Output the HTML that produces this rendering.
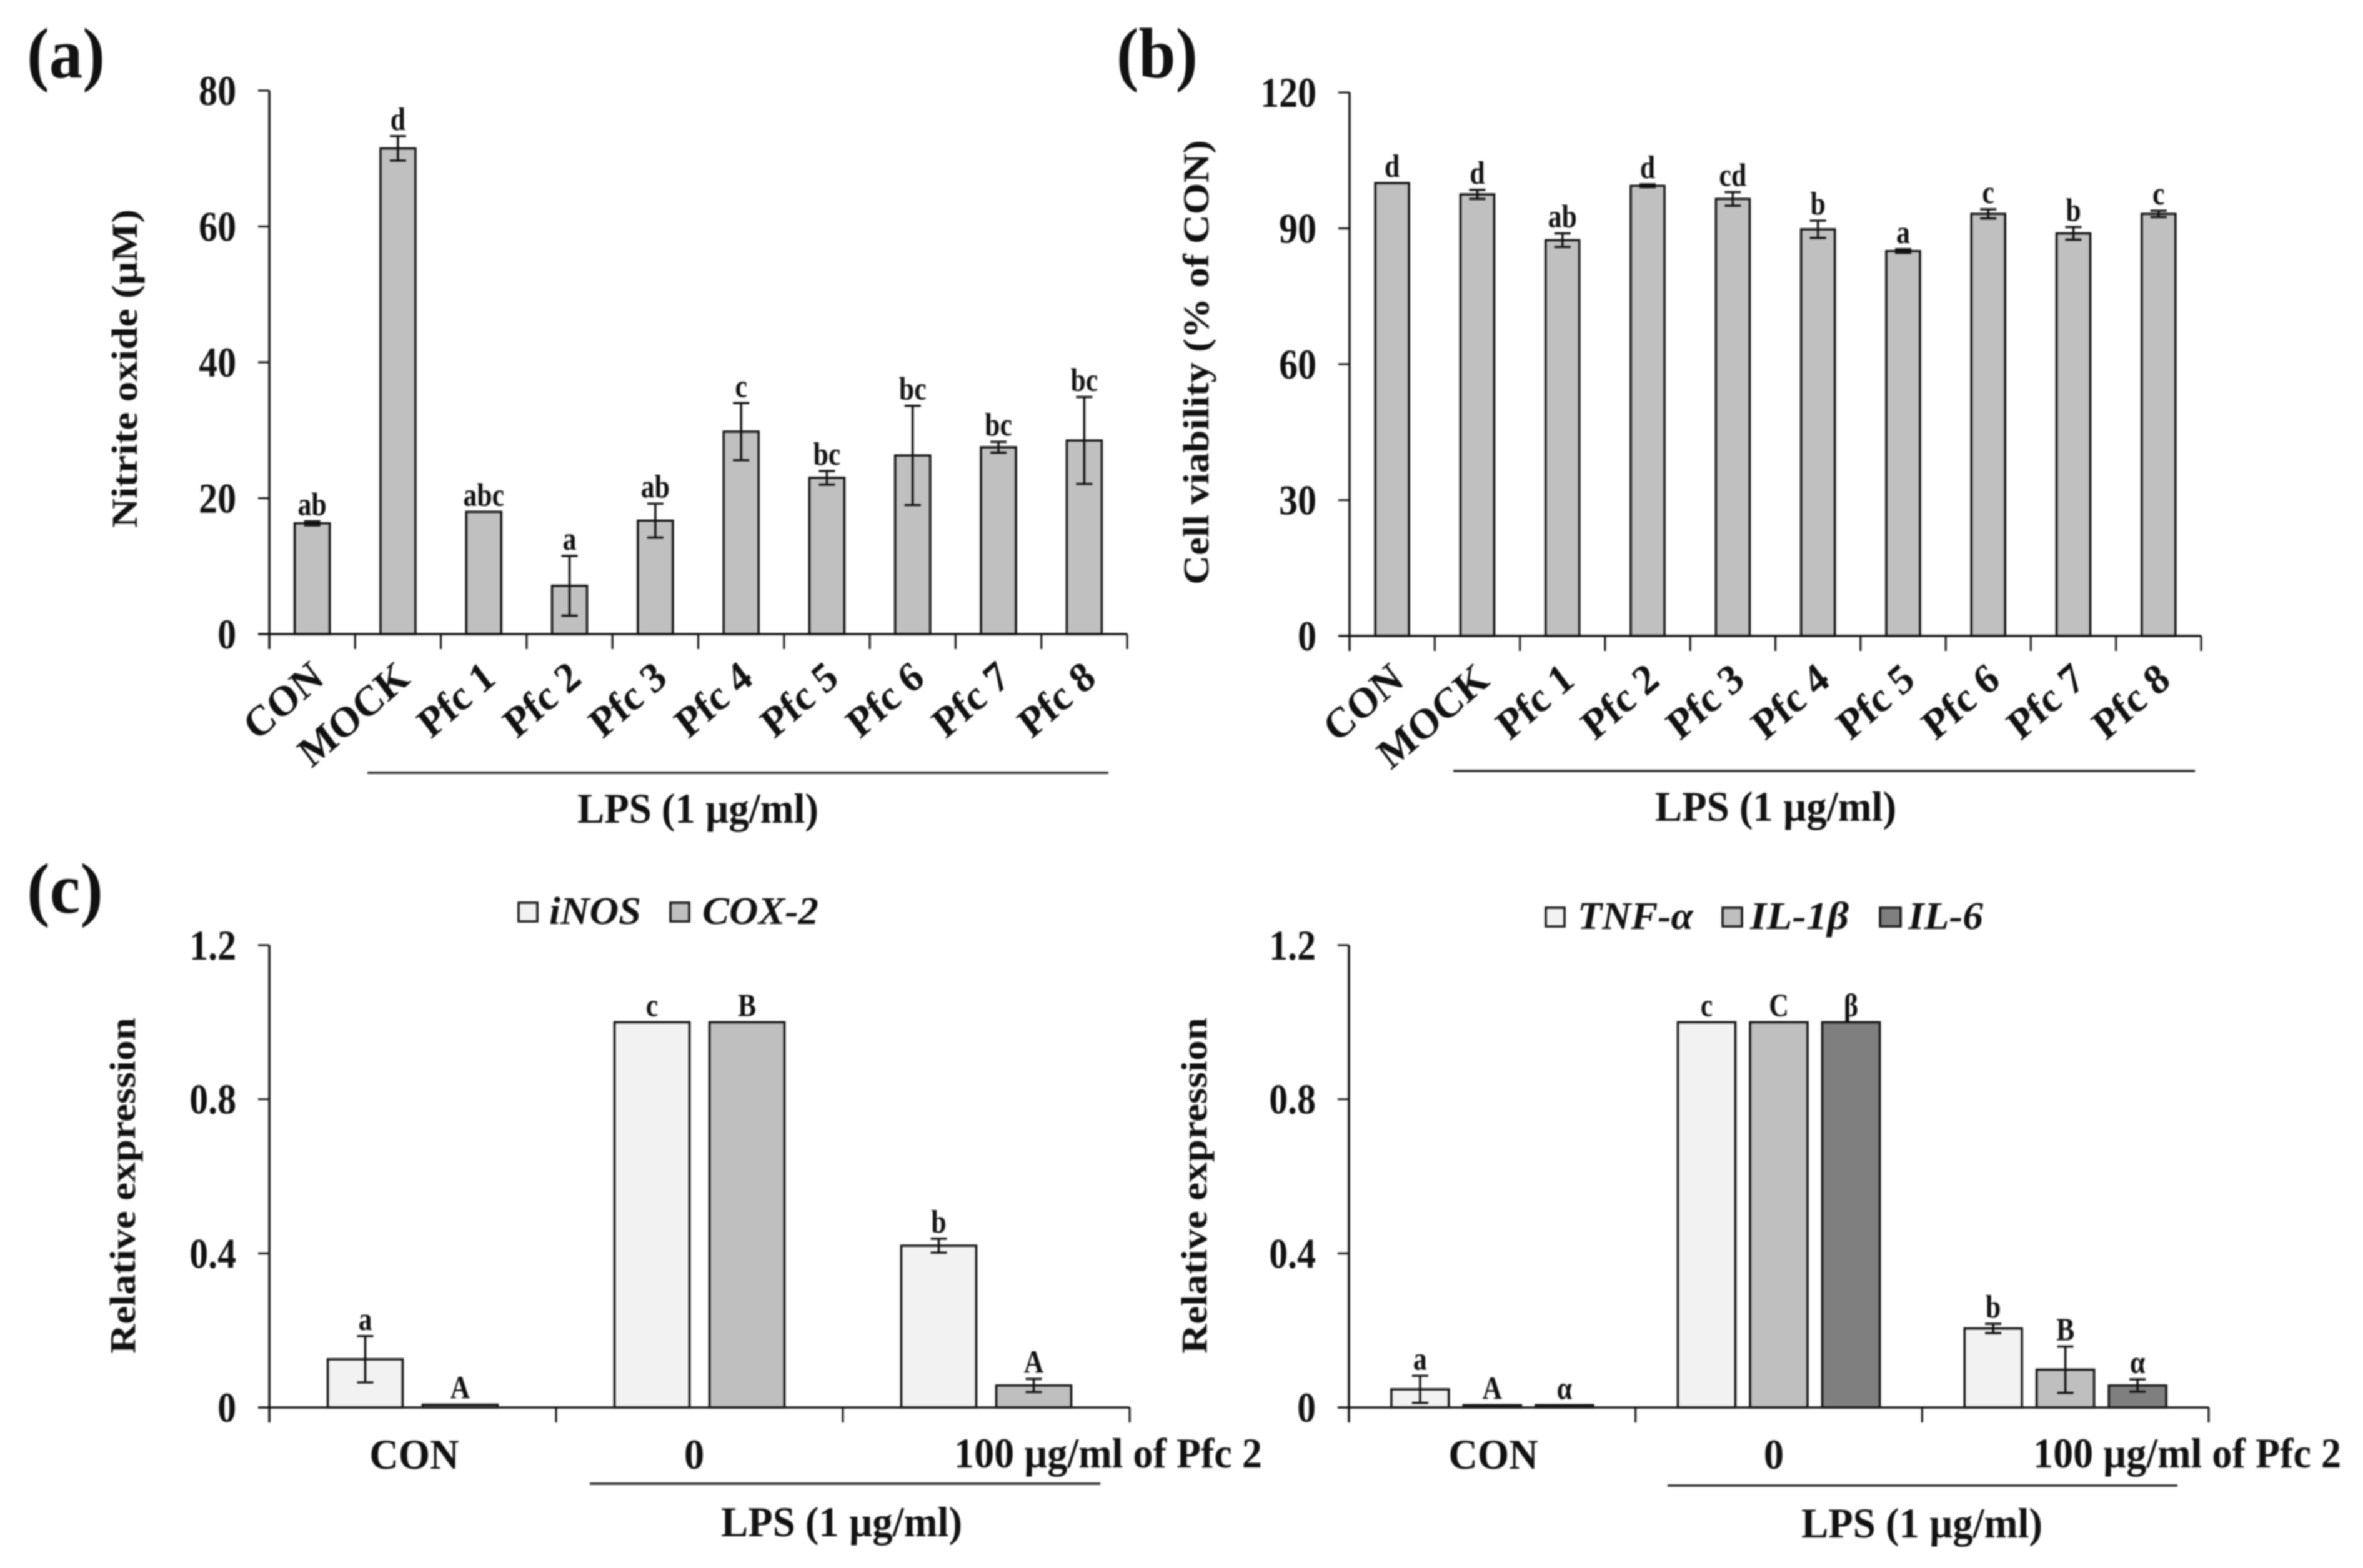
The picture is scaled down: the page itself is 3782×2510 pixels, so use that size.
<!DOCTYPE html>
<html lang="en">
<head>
<meta charset="utf-8">
<title>Nitrite oxide, cell viability and relative expression charts</title>
<style>
html,body{margin:0;padding:0;background:#fff;width:3782px;height:2510px;overflow:hidden}
svg{display:block;filter:blur(1.4px)}
text{font-family:"Liberation Serif","DejaVu Serif",serif;font-weight:bold;fill:#111}
</style>
</head>
<body>
<svg id="figure" xmlns="http://www.w3.org/2000/svg" width="3782" height="2510" viewBox="0 0 3782 2510">
  <rect width="3782" height="2510" fill="#fff"/>
  <text x="43" y="124" font-size="114" textLength="125" lengthAdjust="spacingAndGlyphs">(a)</text>
  <text x="1787" y="124" font-size="114" textLength="130" lengthAdjust="spacingAndGlyphs">(b)</text>
  <text x="43" y="1461" font-size="114" textLength="122" lengthAdjust="spacingAndGlyphs">(c)</text>

  <text transform="translate(219 590) rotate(-90)" text-anchor="middle" font-size="58" textLength="510" lengthAdjust="spacingAndGlyphs">Nitrite oxide (µM)</text>
  <text transform="translate(1934 580) rotate(-90)" text-anchor="middle" font-size="58" textLength="712" lengthAdjust="spacingAndGlyphs">Cell viability (% of CON)</text>
  <text transform="translate(216 1898) rotate(-90)" text-anchor="middle" font-size="58" textLength="538" lengthAdjust="spacingAndGlyphs">Relative expression</text>
  <text transform="translate(1931 1898) rotate(-90)" text-anchor="middle" font-size="58" textLength="538" lengthAdjust="spacingAndGlyphs">Relative expression</text>

  <line x1="588" x2="1774" y1="1237" y2="1237" stroke="#222" stroke-width="3.5"/>
  <text x="1117" y="1317" text-anchor="middle" font-size="68" textLength="386" lengthAdjust="spacingAndGlyphs">LPS (1 µg/ml)</text>
  <line x1="2326" x2="3513" y1="1234" y2="1234" stroke="#222" stroke-width="3.5"/>
  <text x="2842" y="1314" text-anchor="middle" font-size="68" textLength="386" lengthAdjust="spacingAndGlyphs">LPS (1 µg/ml)</text>
  <line x1="944" x2="1761" y1="2375" y2="2375" stroke="#222" stroke-width="3.5"/>
  <text x="1347" y="2459" text-anchor="middle" font-size="68" textLength="386" lengthAdjust="spacingAndGlyphs">LPS (1 µg/ml)</text>
  <line x1="2669" x2="3485" y1="2378" y2="2378" stroke="#222" stroke-width="3.5"/>
  <text x="3076" y="2461" text-anchor="middle" font-size="68" textLength="386" lengthAdjust="spacingAndGlyphs">LPS (1 µg/ml)</text>

  <g>
    <rect x="830" y="1445" width="30" height="30" fill="#f2f2f2" stroke="#111" stroke-width="3.5"/>
    <text x="879" y="1479" font-size="62" font-style="italic" textLength="147" lengthAdjust="spacingAndGlyphs">iNOS</text>
    <rect x="1073" y="1445" width="30" height="30" fill="#bfbfbf" stroke="#111" stroke-width="3.5"/>
    <text x="1124" y="1479" font-size="62" font-style="italic" textLength="186" lengthAdjust="spacingAndGlyphs">COX-2</text>
  </g>
  <g>
    <rect x="2474" y="1453" width="30" height="30" fill="#f2f2f2" stroke="#111" stroke-width="3.5"/>
    <text x="2525" y="1487" font-size="62" font-style="italic" textLength="185" lengthAdjust="spacingAndGlyphs">TNF-α</text>
    <rect x="2757" y="1453" width="31" height="30" fill="#bfbfbf" stroke="#111" stroke-width="3.5"/>
    <text x="2801" y="1487" font-size="62" font-style="italic" textLength="158" lengthAdjust="spacingAndGlyphs">IL-1β</text>
    <rect x="3009" y="1453" width="33" height="30" fill="#7f7f7f" stroke="#111" stroke-width="3.5"/>
    <text x="3054" y="1487" font-size="62" font-style="italic" textLength="120" lengthAdjust="spacingAndGlyphs">IL-6</text>
  </g>
  <g id="plots"></g>
</svg>
<script>
// Panel (a): nitrite oxide
const aCategories = ['CON','MOCK','Pfc 1','Pfc 2','Pfc 3','Pfc 4','Pfc 5','Pfc 6','Pfc 7','Pfc 8'];
const aValues = [16.3,71.5,18,7.1,16.7,29.8,23,26.3,27.5,28.5];
const aErrors = [0.3,1.8,0,4.4,2.5,4.2,1,7.3,0.8,6.4];
const aLetters = ['ab','d','abc','a','ab','c','bc','bc','bc','bc'];
const aTicks = ['0','20','40','60','80'];

// Panel (b): cell viability
const bCategories = ['CON','MOCK','Pfc 1','Pfc 2','Pfc 3','Pfc 4','Pfc 5','Pfc 6','Pfc 7','Pfc 8'];
const bValues = [100,97.5,87.4,99.4,96.5,89.8,85,93.2,88.9,93.2];
const bErrors = [0,1,1.5,0.3,1.5,1.9,0.4,1,1.4,0.7];
const bLetters = ['d','d','ab','d','cd','b','a','c','b','c'];
const bTicks = ['0','30','60','90','120'];

// Panel (c) left: iNOS, COX-2
const cLeftGroups = ['CON','0','100 µg/ml of Pfc 2'];
const cLeftTicks = ['0','0.4','0.8','1.2'];
const inosValues = [0.125,1,0.42];
const inosErrors = [0.06,0,0.018];
const inosLetters = ['a','c','b'];
const coxValues = [0.007,1,0.057];
const coxErrors = [0,0,0.017];
const coxLetters = ['A','B','A'];

// Panel (c) right: TNF-a, IL-1b, IL-6
const cRightGroups = ['CON','0','100 µg/ml of Pfc 2'];
const cRightTicks = ['0','0.4','0.8','1.2'];
const tnfValues = [0.047,1,0.205];
const tnfErrors = [0.035,0,0.012];
const tnfLetters = ['a','c','b'];
const il1Values = [0.006,1,0.098];
const il1Errors = [0,0,0.06];
const il1Letters = ['A','C','B'];
const il6Values = [0.006,1,0.057];
const il6Errors = [0,0,0.016];
const il6Letters = ['α','β','α'];

const SVGNS = 'http://www.w3.org/2000/svg';
const root = document.getElementById('plots');

function makeLine(parent, name, x1, y1, x2, y2, width) {
  const el = document.createElementNS(SVGNS, 'line');
  
  
  el.setAttribute('x1', x1);
  el.setAttribute('y1', y1);
  el.setAttribute('x2', x2);
  el.setAttribute('y2', y2);
  el.setAttribute('stroke', '#111');
  el.setAttribute('stroke-width', width);
  parent.appendChild(el);
  return el;
}
function makeRect(parent, name, x, y, w, h, fill) {
  const el = document.createElementNS(SVGNS, 'rect');
  
  
  el.setAttribute('x', x);
  el.setAttribute('y', y);
  el.setAttribute('width', w);
  el.setAttribute('height', h);
  el.setAttribute('fill', fill);
  el.setAttribute('stroke', '#111');
  el.setAttribute('stroke-width', 3.5);
  parent.appendChild(el);
  return el;
}
// sx narrows the glyphs horizontally: the source figure's type is tall and condensed.
function makeText(parent, name, x, y, str, size, anchor, sx) {
  const el = document.createElementNS(SVGNS, 'text');
  
  
  el.setAttribute('transform', 'translate(' + x + ' ' + y + ') scale(' + sx + ' 1)');
  el.setAttribute('font-size', size);
  el.setAttribute('text-anchor', anchor);
  el.textContent = str;
  parent.appendChild(el);
  return el;
}
function makeGroup(name) {
  const el = document.createElementNS(SVGNS, 'g');
  
  
  root.appendChild(el);
  return el;
}
function slug(s) {
  return s.toLowerCase().replace(/[^a-z0-9]+/g, '-');
}

// Axis functions and marks for one plot.
function drawPlot(id, box, categories, ticks, series) {
  const g = makeGroup('plot-' + id);
  const yMax = parseFloat(ticks[ticks.length - 1]);
  const yScale = v => box.y0 - (v / yMax) * (box.y0 - box.yTop);
  const band = (box.x1 - box.x0) / categories.length;
  const xCenter = i => box.x0 + (i + 0.5) * band;
  const total = series.length * box.barW + (series.length - 1) * box.gap;

  series.forEach((s) => {
    s.values.forEach((v, i) => {
      const left = xCenter(i) - total / 2 + s.index * (box.barW + box.gap);
      const cx = left + box.barW / 2;
      const top = yScale(v);
      makeRect(g, 'bar-' + id + '-' + slug(s.name) + '-' + slug(categories[i]), left, top, box.barW, box.y0 - top, s.fill);
      const hi = yScale(v + s.errors[i]);
      const lo = yScale(Math.max(0, v - s.errors[i]));
      if (s.errors[i] > 0) {
        makeLine(g, 'error-stem-' + id + '-' + slug(s.name) + '-' + i, cx, hi, cx, lo, 3.5);
        makeLine(g, 'error-cap-top-' + id + '-' + slug(s.name) + '-' + i, cx - 13, hi, cx + 13, hi, 3.5);
        makeLine(g, 'error-cap-bottom-' + id + '-' + slug(s.name) + '-' + i, cx - 13, lo, cx + 13, lo, 3.5);
      }
      makeText(g, 'significance-letter-' + id + '-' + slug(s.name) + '-' + i, cx, hi - 10, s.letters[i], box.letterSize, 'middle', 0.84);
    });
  });

  makeLine(g, 'y-axis-' + id, box.x0, box.yTop, box.x0, box.y0 + 24, 3.5);
  makeLine(g, 'x-axis-' + id, box.x0 - 18, box.y0, box.x1, box.y0, 3.5);
  ticks.forEach((t) => {
    const y = yScale(parseFloat(t));
    makeLine(g, 'y-tick-' + id + '-' + slug(t), box.x0 - 18, y, box.x0, y, 3);
    makeText(g, 'y-tick-label-' + id + '-' + slug(t), box.x0 - 53, y + 23, t, 68, 'end', 0.88);
  });
  for (let i = 0; i <= categories.length; i++) {
    const x = box.x0 + i * band;
    makeLine(g, 'x-tick-' + id + '-' + i, x, box.y0, x, box.y0 + 24, 3);
  }
  categories.forEach((c, i) => {
    if (box.rotated) {
      const ex = xCenter(i) + 22;
      const ey = box.y0 + 76;
      const t = makeText(g, 'x-tick-label-' + id + '-' + slug(c), 0, 0, c, 66, 'end', 1);
      t.setAttribute('transform', 'translate(' + ex + ' ' + ey + ') rotate(-41) skewX(-4)');
    }
  });
}

const boxA = {x0: 431, x1: 1804, yTop: 145, y0: 1015, barW: 56, gap: 0, letterSize: 52, rotated: true};
const boxB = {x0: 2160, x1: 3523, yTop: 148, y0: 1018, barW: 54, gap: 0, letterSize: 52, rotated: true};
const boxCL = {x0: 431, x1: 1808, yTop: 1513, y0: 2253, barW: 120, gap: 32, letterSize: 52, rotated: false};
const boxCR = {x0: 2159, x1: 3535, yTop: 1513, y0: 2253, barW: 92, gap: 23.5, letterSize: 52, rotated: false};

drawPlot('a', boxA, aCategories, aTicks, [
  {index: 0, name: 'nitrite', fill: '#c0c0c0', values: aValues, errors: aErrors, letters: aLetters}
]);
drawPlot('b', boxB, bCategories, bTicks, [
  {index: 0, name: 'viability', fill: '#c0c0c0', values: bValues, errors: bErrors, letters: bLetters}
]);
drawPlot('c-left', boxCL, cLeftGroups, cLeftTicks, [
  {index: 0, name: 'inos', fill: '#f2f2f2', values: inosValues, errors: inosErrors, letters: inosLetters},
  {index: 1, name: 'cox2', fill: '#bfbfbf', values: coxValues, errors: coxErrors, letters: coxLetters}
]);
drawPlot('c-right', boxCR, cRightGroups, cRightTicks, [
  {index: 0, name: 'tnf', fill: '#f2f2f2', values: tnfValues, errors: tnfErrors, letters: tnfLetters},
  {index: 1, name: 'il1b', fill: '#bfbfbf', values: il1Values, errors: il1Errors, letters: il1Letters},
  {index: 2, name: 'il6', fill: '#7f7f7f', values: il6Values, errors: il6Errors, letters: il6Letters}
]);

// Group labels under the expression panels: they sit off-centre in the source figure.
const groupLabelGroup = makeGroup('group-labels');
makeText(groupLabelGroup, 'x-label-c-left-con', 663, 2351, cLeftGroups[0], 68, 'middle', 0.95);
makeText(groupLabelGroup, 'x-label-c-left-zero', 1111, 2351, cLeftGroups[1], 68, 'middle', 0.95);
const cLeftDose = makeText(groupLabelGroup, 'x-label-c-left-dose', 1527, 2349, cLeftGroups[2], 68, 'start', 1);
cLeftDose.setAttribute('textLength', 493);
cLeftDose.setAttribute('lengthAdjust', 'spacingAndGlyphs');
makeText(groupLabelGroup, 'x-label-c-right-con', 2390, 2351, cRightGroups[0], 68, 'middle', 0.95);
makeText(groupLabelGroup, 'x-label-c-right-zero', 2839, 2351, cRightGroups[1], 68, 'middle', 0.95);
const cRightDose = makeText(groupLabelGroup, 'x-label-c-right-dose', 3254, 2349, cRightGroups[2], 68, 'start', 1);
cRightDose.setAttribute('textLength', 493);
cRightDose.setAttribute('lengthAdjust', 'spacingAndGlyphs');
</script>
</body>
</html>
